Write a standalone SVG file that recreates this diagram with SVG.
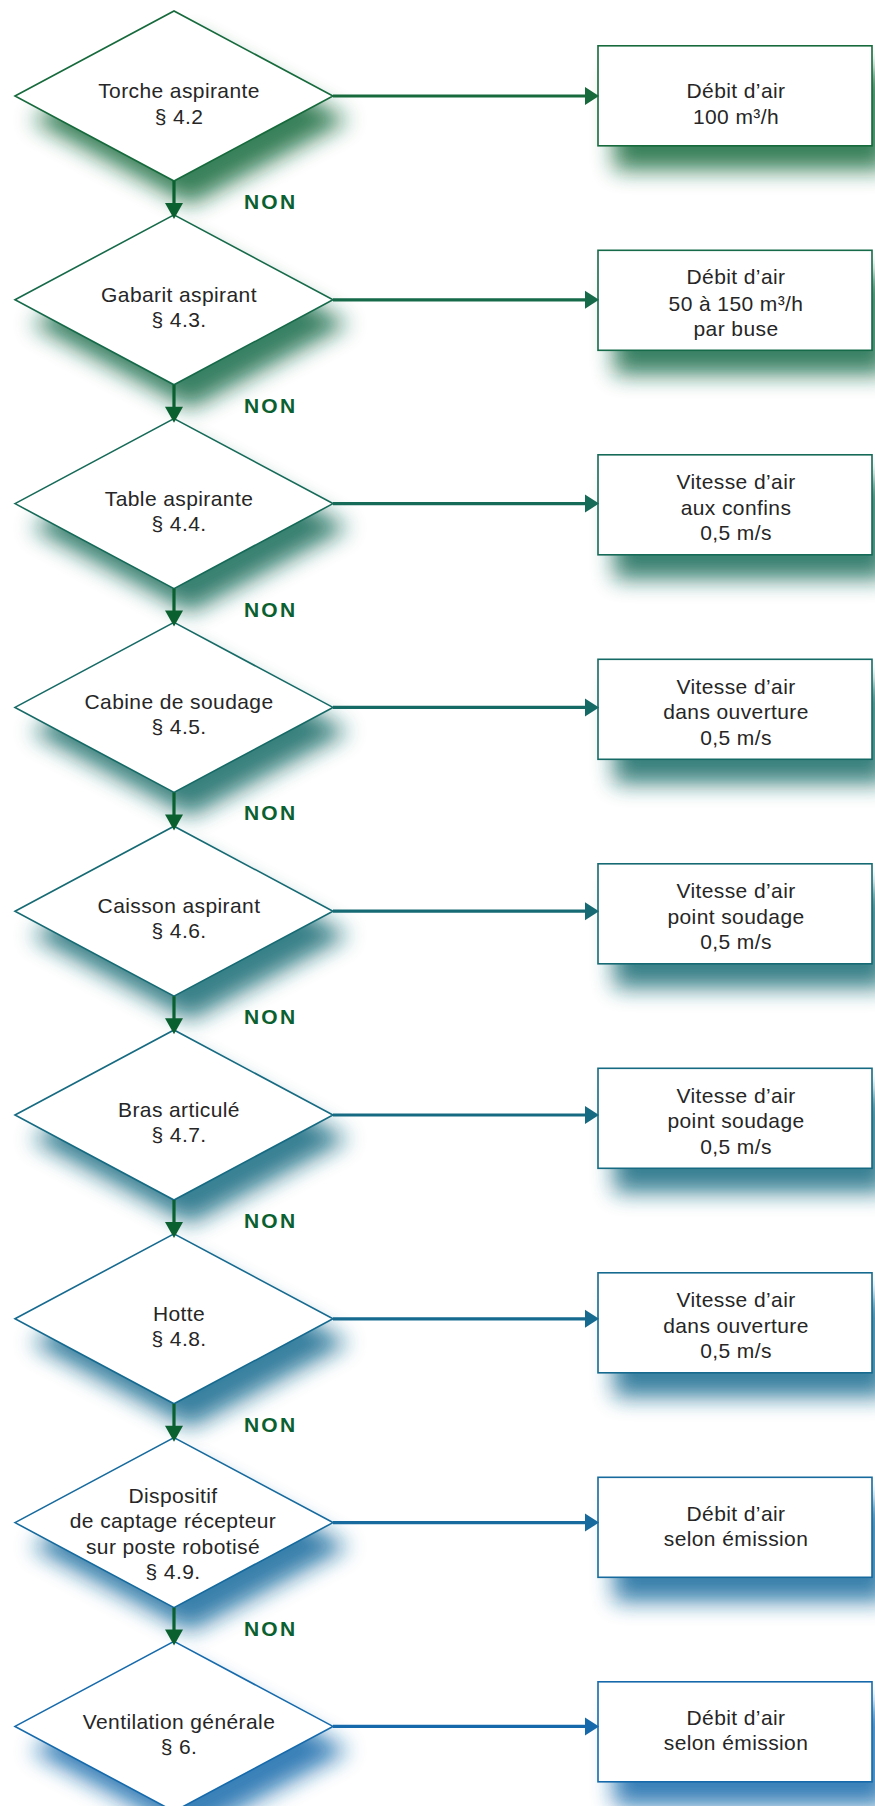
<svg xmlns="http://www.w3.org/2000/svg" width="875" height="1806" viewBox="0 0 875 1806">
<style>
.t{font-family:"Liberation Sans",Arial,sans-serif;font-size:21px;letter-spacing:0.4px;fill:#262626;text-anchor:middle}
.non{font-family:"Liberation Sans",Arial,sans-serif;font-size:21px;font-weight:bold;letter-spacing:2.2px;fill:#0b6030}
.shape{fill:#fff;stroke:var(--c);stroke-width:1.6}
.sh{fill:var(--c);opacity:0.85;filter:url(#blur)}
.hl{stroke:var(--c);stroke-width:3.2;fill:none}
.ha{fill:var(--c)}
.vl{stroke:#0b6030;stroke-width:3.2;fill:none}
.va{fill:#0b6030}
</style>
<defs>
<filter id="blur" x="-30%" y="-40%" width="160%" height="180%"><feGaussianBlur stdDeviation="11"/></filter>
<polygon id="dia" points="15,0 174,-85 333,0 174,85"/>
</defs>
<rect width="875" height="1806" fill="#fff"/>

<!-- row 0 -->
<g id="q0" style="--c:#166a3c">
<use href="#dia" class="sh" x="16" y="120"/>
<use href="#dia" class="shape" y="96"/>
<text class="t" x="179" y="98">Torche aspirante</text>
<text class="t" x="179" y="124">§ 4.2</text>
</g>
<g id="r0" style="--c:#166a3c">
<rect class="sh" x="614" y="70" width="274" height="100"/>
<rect class="shape" x="598" y="45.8" width="274" height="100"/>
<text class="t" x="736" y="97.8">Débit d’air</text>
<text class="t" x="736" y="123.8">100 m³/h</text>
</g>

<!-- row 1 -->
<g id="q1" style="--c:#166a4a">
<use href="#dia" class="sh" x="16" y="323.8"/>
<use href="#dia" class="shape" y="299.8"/>
<text class="t" x="179" y="301.8">Gabarit aspirant</text>
<text class="t" x="179" y="326.8">§ 4.3.</text>
</g>
<g id="r1" style="--c:#166a4a">
<rect class="sh" x="614" y="274.5" width="274" height="100"/>
<rect class="shape" x="598" y="250.3" width="274" height="100"/>
<text class="t" x="736" y="284.3">Débit d’air</text>
<text class="t" x="736" y="310.8">50 à 150 m³/h</text>
<text class="t" x="736" y="336.3">par buse</text>
</g>

<!-- row 2 -->
<g id="q2" style="--c:#166a58">
<use href="#dia" class="sh" x="16" y="527.6"/>
<use href="#dia" class="shape" y="503.6"/>
<text class="t" x="179" y="505.6">Table aspirante</text>
<text class="t" x="179" y="530.6">§ 4.4.</text>
</g>
<g id="r2" style="--c:#166a58">
<rect class="sh" x="614" y="479" width="274" height="100"/>
<rect class="shape" x="598" y="454.8" width="274" height="100"/>
<text class="t" x="736" y="489.3">Vitesse d’air</text>
<text class="t" x="736" y="514.8">aux confins</text>
<text class="t" x="736" y="540.3">0,5 m/s</text>
</g>

<!-- row 3 -->
<g id="q3" style="--c:#166a66">
<use href="#dia" class="sh" x="16" y="731.4"/>
<use href="#dia" class="shape" y="707.4"/>
<text class="t" x="179" y="709.4">Cabine de soudage</text>
<text class="t" x="179" y="734.4">§ 4.5.</text>
</g>
<g id="r3" style="--c:#166a66">
<rect class="sh" x="614" y="683.5" width="274" height="100"/>
<rect class="shape" x="598" y="659.3" width="274" height="100"/>
<text class="t" x="736" y="693.8">Vitesse d’air</text>
<text class="t" x="736" y="719.3">dans ouverture</text>
<text class="t" x="736" y="744.8">0,5 m/s</text>
</g>

<!-- row 4 -->
<g id="q4" style="--c:#166a73">
<use href="#dia" class="sh" x="16" y="935.2"/>
<use href="#dia" class="shape" y="911.2"/>
<text class="t" x="179" y="913.2">Caisson aspirant</text>
<text class="t" x="179" y="938.2">§ 4.6.</text>
</g>
<g id="r4" style="--c:#166a73">
<rect class="sh" x="614" y="888" width="274" height="100"/>
<rect class="shape" x="598" y="863.8" width="274" height="100"/>
<text class="t" x="736" y="898.3">Vitesse d’air</text>
<text class="t" x="736" y="923.8">point soudage</text>
<text class="t" x="736" y="949.3">0,5 m/s</text>
</g>

<!-- row 5 -->
<g id="q5" style="--c:#166a81">
<use href="#dia" class="sh" x="16" y="1139"/>
<use href="#dia" class="shape" y="1115"/>
<text class="t" x="179" y="1117">Bras articulé</text>
<text class="t" x="179" y="1142">§ 4.7.</text>
</g>
<g id="r5" style="--c:#166a81">
<rect class="sh" x="614" y="1092.5" width="274" height="100"/>
<rect class="shape" x="598" y="1068.3" width="274" height="100"/>
<text class="t" x="736" y="1102.8">Vitesse d’air</text>
<text class="t" x="736" y="1128.3">point soudage</text>
<text class="t" x="736" y="1153.8">0,5 m/s</text>
</g>

<!-- row 6 -->
<g id="q6" style="--c:#166a8f">
<use href="#dia" class="sh" x="16" y="1342.8"/>
<use href="#dia" class="shape" y="1318.8"/>
<text class="t" x="179" y="1320.8">Hotte</text>
<text class="t" x="179" y="1345.8">§ 4.8.</text>
</g>
<g id="r6" style="--c:#166a8f">
<rect class="sh" x="614" y="1297" width="274" height="100"/>
<rect class="shape" x="598" y="1272.8" width="274" height="100"/>
<text class="t" x="736" y="1307.3">Vitesse d’air</text>
<text class="t" x="736" y="1332.8">dans ouverture</text>
<text class="t" x="736" y="1358.3">0,5 m/s</text>
</g>

<!-- row 7 -->
<g id="q7" style="--c:#166a9d">
<use href="#dia" class="sh" x="16" y="1546.6"/>
<use href="#dia" class="shape" y="1522.6"/>
<text class="t" x="173" y="1502.6">Dispositif</text>
<text class="t" x="173" y="1527.6">de captage récepteur</text>
<text class="t" x="173" y="1553.6">sur poste robotisé</text>
<text class="t" x="173" y="1578.6">§ 4.9.</text>
</g>
<g id="r7" style="--c:#166a9d">
<rect class="sh" x="614" y="1501.5" width="274" height="100"/>
<rect class="shape" x="598" y="1477.3" width="274" height="100"/>
<text class="t" x="736" y="1520.8">Débit d’air</text>
<text class="t" x="736" y="1545.8">selon émission</text>
</g>

<!-- row 8 -->
<g id="q8" style="--c:#166aab">
<use href="#dia" class="sh" x="16" y="1750.4"/>
<use href="#dia" class="shape" y="1726.4"/>
<text class="t" x="179" y="1729.4">Ventilation générale</text>
<text class="t" x="179" y="1754.4">§ 6.</text>
</g>
<g id="r8" style="--c:#166aab">
<rect class="sh" x="614" y="1706" width="274" height="100"/>
<rect class="shape" x="598" y="1681.8" width="274" height="100"/>
<text class="t" x="736" y="1725.3">Débit d’air</text>
<text class="t" x="736" y="1750.3">selon émission</text>
</g>

<g id="connectors">
<path class="hl" style="--c:#166a3c" d="M333,96H588"/><polygon class="ha" style="--c:#166a3c" points="585,87 585,105 599,96"/>
<path class="hl" style="--c:#166a4a" d="M333,299.8H588"/><polygon class="ha" style="--c:#166a4a" points="585,290.8 585,308.8 599,299.8"/>
<path class="hl" style="--c:#166a58" d="M333,503.6H588"/><polygon class="ha" style="--c:#166a58" points="585,494.6 585,512.6 599,503.6"/>
<path class="hl" style="--c:#166a66" d="M333,707.4H588"/><polygon class="ha" style="--c:#166a66" points="585,698.4 585,716.4 599,707.4"/>
<path class="hl" style="--c:#166a73" d="M333,911.2H588"/><polygon class="ha" style="--c:#166a73" points="585,902.2 585,920.2 599,911.2"/>
<path class="hl" style="--c:#166a81" d="M333,1115H588"/><polygon class="ha" style="--c:#166a81" points="585,1106 585,1124 599,1115"/>
<path class="hl" style="--c:#166a8f" d="M333,1318.8H588"/><polygon class="ha" style="--c:#166a8f" points="585,1309.8 585,1327.8 599,1318.8"/>
<path class="hl" style="--c:#166a9d" d="M333,1522.6H588"/><polygon class="ha" style="--c:#166a9d" points="585,1513.6 585,1531.6 599,1522.6"/>
<path class="hl" style="--c:#166aab" d="M333,1726.4H588"/><polygon class="ha" style="--c:#166aab" points="585,1717.4 585,1735.4 599,1726.4"/>

<path class="vl" d="M174,181V205"/><polygon class="va" points="165,203 183,203 174,219"/>
<path class="vl" d="M174,384.8V408.8"/><polygon class="va" points="165,406.8 183,406.8 174,422.8"/>
<path class="vl" d="M174,588.6V612.6"/><polygon class="va" points="165,610.6 183,610.6 174,626.6"/>
<path class="vl" d="M174,792.4V816.4"/><polygon class="va" points="165,814.4 183,814.4 174,830.4"/>
<path class="vl" d="M174,996.2V1020.2"/><polygon class="va" points="165,1018.2 183,1018.2 174,1034.2"/>
<path class="vl" d="M174,1200V1224"/><polygon class="va" points="165,1222 183,1222 174,1238"/>
<path class="vl" d="M174,1403.8V1427.8"/><polygon class="va" points="165,1425.8 183,1425.8 174,1441.8"/>
<path class="vl" d="M174,1607.6V1631.6"/><polygon class="va" points="165,1629.6 183,1629.6 174,1645.6"/>

<text class="non" x="244" y="209">NON</text>
<text class="non" x="244" y="412.8">NON</text>
<text class="non" x="244" y="616.6">NON</text>
<text class="non" x="244" y="820.4">NON</text>
<text class="non" x="244" y="1024.2">NON</text>
<text class="non" x="244" y="1228">NON</text>
<text class="non" x="244" y="1431.8">NON</text>
<text class="non" x="244" y="1635.6">NON</text>
</g>
</svg>
